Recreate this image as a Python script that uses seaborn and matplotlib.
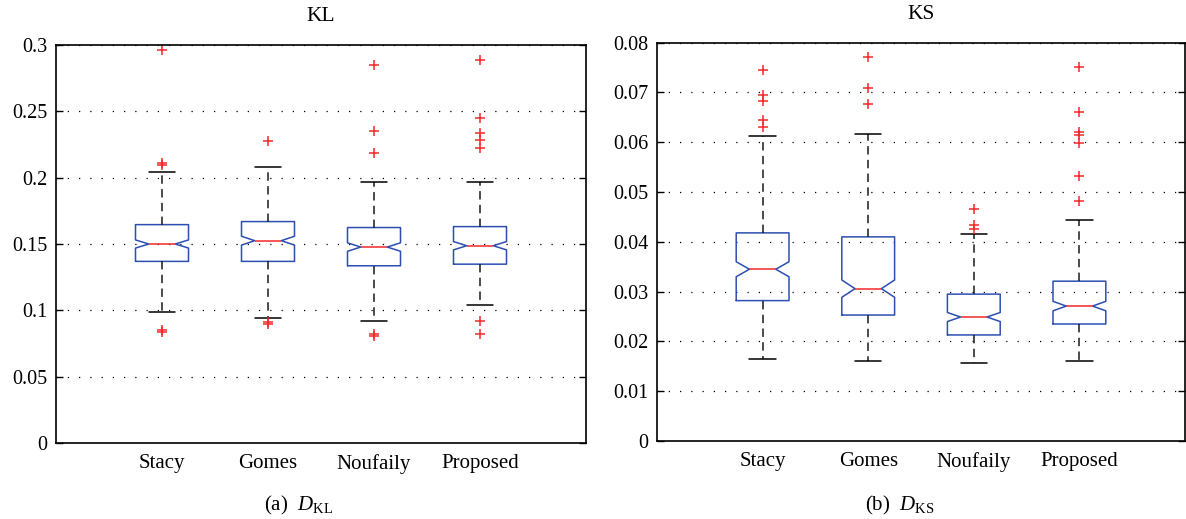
import numpy as np
import pandas as pd
import matplotlib
matplotlib.use("Agg")
import matplotlib.pyplot as plt
import seaborn as sns
from matplotlib.ticker import FuncFormatter

# ---------------- data ----------------
methods = ["Stacy", "Gomes", "Noufaily", "Proposed"]
n_runs = 201  # samples per method (sets the notch size)

# KL divergence panel
kl_q1 = [0.1369, 0.1369, 0.1336, 0.1348]
kl_med = [0.1500, 0.1525, 0.1477, 0.1487]
kl_q3 = [0.1646, 0.1669, 0.1624, 0.1631]
kl_lo = [0.0985, 0.0939, 0.0922, 0.1040]
kl_hi = [0.2045, 0.2081, 0.1967, 0.1967]
kl_outliers = [
    [0.2959, 0.2110, 0.2092, 0.0851, 0.0836],
    [0.2277, 0.0914, 0.0897],
    [0.2846, 0.2354, 0.2189, 0.0821, 0.0806],
    [0.2884, 0.2447, 0.2336, 0.2285, 0.2220, 0.0919, 0.0823],
]

# KS distance panel
ks_q1 = [0.0282, 0.0253, 0.0213, 0.0235]
ks_med = [0.0345, 0.0306, 0.0249, 0.0271]
ks_q3 = [0.0418, 0.0410, 0.0295, 0.0321]
ks_lo = [0.0164, 0.0160, 0.0156, 0.0160]
ks_hi = [0.0613, 0.0617, 0.0415, 0.0444]
ks_outliers = [
    [0.0746, 0.0695, 0.0683, 0.0644, 0.0630],
    [0.0771, 0.0709, 0.0677],
    [0.0465, 0.0434, 0.0426],
    [0.0752, 0.0660, 0.0621, 0.0614, 0.0599, 0.0533, 0.0483],
]

kl_ticks = [0, 0.05, 0.1, 0.15, 0.2, 0.25, 0.3]
ks_ticks = [0, 0.01, 0.02, 0.03, 0.04, 0.05, 0.06, 0.07, 0.08]


def build_sample(q1, med, q3, lo, hi, outliers, n):
    """Sorted sample whose quartiles / whiskers / outliers equal the read values."""
    low_out = sorted(v for v in outliers if v < lo)
    high_out = sorted(v for v in outliers if v > hi)
    k = (n - 1) // 4
    vals = low_out + [lo]
    vals += [q1] * (k + 1 - len(vals))
    vals += [med] * (2 * k + 1 - len(vals))
    vals += [q3] * (n - len(high_out) - 1 - len(vals))
    vals += [hi] + high_out
    return vals


def build_frame(q1s, meds, q3s, los, his, outs):
    rows = []
    for m, a, b, c, d, e, o in zip(methods, q1s, meds, q3s, los, his, outs):
        for v in build_sample(a, b, c, d, e, o, n_runs):
            rows.append((m, v))
    return pd.DataFrame(rows, columns=["method", "value"])


kl_df = build_frame(kl_q1, kl_med, kl_q3, kl_lo, kl_hi, kl_outliers)
ks_df = build_frame(ks_q1, ks_med, ks_q3, ks_lo, ks_hi, ks_outliers)

# ---------------- style ----------------
sns.set_theme(style="white")
plt.rcParams["font.family"] = ["Liberation Serif", "DejaVu Serif"]
plt.rcParams["mathtext.fontset"] = "custom"
plt.rcParams["mathtext.rm"] = "Liberation Serif"
plt.rcParams["mathtext.it"] = "Liberation Serif:italic"

BLUE = "#2d4fb2"
RED = "#f42a2a"

fig = plt.figure(figsize=(11.86, 5.19), dpi=100)
W, H = 1186.0, 519.0
ax1 = fig.add_axes([56 / W, (H - 443) / H, 530 / W, (443 - 45) / H])
ax2 = fig.add_axes([657 / W, (H - 441) / H, 528 / W, (441 - 42.7) / H])


def draw(ax, df, ticks, title):
    sns.boxplot(
        data=df, x="method", y="value", order=methods, ax=ax,
        notch=True, fill=False, width=0.5, whis=1.5, color=BLUE,
        linewidth=1.1,
        boxprops=dict(color=BLUE, linewidth=1.1),
        medianprops=dict(color=RED, linewidth=1.1),
        whiskerprops=dict(color="#1a1a1a", linestyle=(0, (5.5, 3.5)), linewidth=1.1),
        capprops=dict(color="black", linewidth=1.1),
        flierprops=dict(marker="+", markeredgecolor=RED, markersize=6.5,
                        markeredgewidth=1.1),
    )
    ax.set_xlim(-1, 4)
    ax.set_ylim(ticks[0], ticks[-1])
    ax.set_yticks(ticks)
    ax.yaxis.set_major_formatter(FuncFormatter(lambda v, p: f"{v:g}"))
    ax.set_xlabel("")
    ax.set_ylabel("")
    ax.set_axisbelow(True)
    ax.yaxis.grid(True, linestyle=(0, (1, 8)), color="black", linewidth=0.9)
    ax.xaxis.grid(False)
    for s in ax.spines.values():
        s.set_visible(True)
        s.set_color("black")
        s.set_linewidth(1.2)
    ax.tick_params(axis="y", direction="in", length=5, width=1, left=True,
                   right=True, labelsize=14.5, colors="black", pad=6)
    ax.tick_params(axis="x", length=0, labelsize=15, pad=8, colors="black")
    ax.set_title(title, fontsize=15.5, pad=17, color="black")


draw(ax1, kl_df, kl_ticks, "KL")
draw(ax2, ks_df, ks_ticks, "KS")

fig.text(299 / W, 1 - 505 / H, r"(a)  $D_{\mathrm{KL}}$", ha="center",
         va="center", fontsize=15, color="black")
fig.text(900 / W, 1 - 505 / H, r"(b)  $D_{\mathrm{KS}}$", ha="center",
         va="center", fontsize=15, color="black")

fig.savefig("out.png", dpi=100)
